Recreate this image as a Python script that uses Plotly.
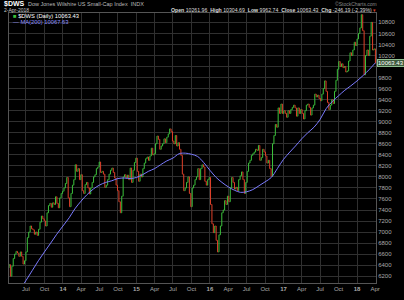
import pandas as pd
import plotly.graph_objects as go

# Weekly closes, week starting dates from 2013-04-08
weekly_close = [
    # 2013 Apr 8 ..
    6410, 6200, 6380, 6520, 6600, 6650, 6620, 6560, 6640, 6560, 6420, 6480,
    6640, 6900, 7000, 7110, 7060, 7040, 6960, 7000, 6940, 7050, 7180, 7290,
    7240, 7200, 7110, 7350, 7480, 7520, 7450, 7530, 7500, 7640, 7520, 7440,
    7620, 7700, 7740,
    # 2014
    7800, 7880, 7990, 7620, 7460, 7700, 7850, 7950, 8220, 8100, 8150, 7950,
    8040, 7750, 7700, 7860, 7900, 7800, 7690, 7800, 7900, 8000, 8040, 8150,
    8180, 8270, 8080, 8100, 8050, 7810, 7850, 7950, 8050, 8120, 8160, 8080,
    7980, 7850, 7750, 7550, 7350, 7650, 8000, 8040, 7980, 8030, 7950, 8160,
    7900, 8120, 8260, 8340,
    # 2015
    8100, 7920, 8050, 8000, 8150, 8250, 8330, 8360, 8300, 8380, 8520, 8400,
    8420, 8600, 8740, 8680, 8500, 8560, 8600, 8690, 8620, 8720, 8780, 8870,
    8820, 8650, 8600, 8750, 8560, 8620, 8500, 8390, 8050, 7750, 7800, 7900,
    8000, 7700, 7460, 7800, 7850, 7950, 8000, 8150, 7950, 8150, 8220, 8180,
    7920, 7850, 7950, 7990,
    # 2016
    7500, 7150, 6990, 7110, 6850, 6640, 6950, 7110, 7350, 7400, 7570, 7500,
    7650, 7550, 7800, 7990, 7900, 7780, 7810, 7750, 7950, 8020, 8090, 7950,
    7700, 7900, 8100, 8250, 8300, 8390, 8420, 8450, 8500, 8480, 8570, 8300,
    8350, 8500, 8450, 8380, 8250, 8300, 8150, 8010, 8600, 8750, 8950, 8900,
    9250, 9150, 9320, 9150,
    # 2017
    9200, 9150, 9080, 9200, 9150, 9220, 9260, 9300, 9250, 9100, 9250, 9150,
    9220, 9150, 9050, 9200, 9300, 9320, 9260, 9120, 9250, 9300, 9500, 9450,
    9480, 9420, 9380, 9500, 9600, 9740, 9550, 9350, 9220, 9300, 9400, 9330,
    9550, 9750, 9950, 10090, 10000, 10050, 9980, 10000, 9900, 9920, 10100, 10250,
    10200, 10300, 10440, 10380,
    # 2018
    10500, 10600, 10700, 10940, 10650, 9850, 10200, 10300, 10200, 10550, 10800, 10300,
    10320, 10063.43,
]
first_open = 6350

# 200-day moving average, hand-read at month starts (last point 2-Apr-2018)
ma_values = [
    5600, 5750, 5950, 6120, 6300, 6480, 6640, 6800, 6960,
    7110, 7260, 7420, 7560, 7680, 7780, 7850, 7900, 7930, 7970, 7980, 7970,
    7990, 8040, 8100, 8150, 8220, 8290, 8340, 8420, 8430, 8410, 8370, 8260,
    8120, 7990, 7900, 7820, 7760, 7720, 7730, 7770, 7840, 7910, 7990, 8150,
    8320, 8450, 8560, 8690, 8800, 8900, 9040, 9240, 9370, 9470, 9570, 9650,
    9740, 9840, 9940, 10067.63,
]

y_ticks = list(range(6200, 10801, 200))
y_tick_text = ["" if v == 10000 else str(v) for v in y_ticks]
x_tick_dates = pd.date_range("2013-07-01", "2018-04-01", freq="QS")
x_tick_text = [("<b>%02d</b>" % (d.year % 100)) if d.month == 1 else d.strftime("%b") for d in x_tick_dates]

dates = pd.date_range("2013-04-08", periods=len(weekly_close), freq="7D")
opens = [first_open] + weekly_close[:-1]
highs = [max(o, c) for o, c in zip(opens, weekly_close)]
lows = [min(o, c) for o, c in zip(opens, weekly_close)]
ma_dates = list(pd.date_range("2013-04-01", "2018-03-01", freq="MS")) + [pd.Timestamp("2018-04-02")]

fig = go.Figure()
fig.add_trace(go.Ohlc(
    x=dates, open=opens, high=highs, low=lows, close=weekly_close,
    increasing=dict(line=dict(color="#3cc23c", width=1)),
    decreasing=dict(line=dict(color="#e0402a", width=1)),
    tickwidth=0.4, showlegend=False, hoverinfo="skip",
))
fig.add_trace(go.Scatter(
    x=ma_dates, y=ma_values, mode="lines",
    line=dict(color="#7b7bff", width=1, shape="spline"),
    showlegend=False, hoverinfo="skip",
))

W, H = 404, 300
L, R, T, B = 8, 380, 13, 292

def px(x):
    return (x - L) / (R - L)

def py(y):
    return (B - y) / (B - T)

font = "Arial, Liberation Sans, sans-serif"
ann = []
def text(x, y, s, size, color, anchor="left"):
    ann.append(dict(x=px(x), y=py(y), xref="paper", yref="paper", text=s, showarrow=False,
                    xanchor=anchor, yanchor="middle", font=dict(family=font, size=size, color=color)))

text(1, 3.5, "<b>$DWS</b>", 7, "#ffffff")
text(25, 3.5, "Dow Jones Wilshire US Small-Cap Index  INDX", 5.5, "#bbbbbb")
text(1, 10, "2-Apr-2018", 5, "#cccccc")
text(382, 10,
     "<b>Open</b> 10261.96  <b>High</b> 10304.69  <b>Low</b> 9962.74  <b>Close</b> 10063.43  "
     "<b>Chg</b> -246.19 (-2.39%) <span style='color:#e0402a'>▾</span>",
     5.2, "#dddddd", anchor="right")
text(383, 3.5, "©StockCharts.com", 5, "#888888", anchor="right")
text(10, 16.5, "<span style='color:#3cc23c'>■</span> $DWS (Daily) 10063.43", 5.8, "#ffffff")
text(10, 22.5, "— MA(200) 10067.63", 5.8, "#8f8fff")
ann.append(dict(x=1.0, y=10063.43, xref="paper", yref="y", text="10063.43", showarrow=False,
                xanchor="left", yanchor="middle", xshift=1,
                font=dict(family=font, size=6, color="#ffffff"),
                bgcolor="#3d5a3d", bordercolor="#8fbf8f", borderwidth=1, borderpad=0))

fig.update_layout(
    width=W, height=H,
    margin=dict(l=L, r=W - R, t=T, b=H - B),
    paper_bgcolor="#000000", plot_bgcolor="#000000",
    annotations=ann,
    xaxis=dict(
        range=["2013-04-08", "2018-04-05"], rangeslider=dict(visible=False),
        tickmode="array", tickvals=x_tick_dates, ticktext=x_tick_text,
        tickfont=dict(family=font, size=6, color="#aaaaaa"),
        showgrid=True, gridcolor="#303030", gridwidth=1,
        showline=True, linecolor="#555555", mirror=True, ticks="", ticklen=0,
        zeroline=False,
    ),
    yaxis=dict(
        range=[6077, 10970], side="right",
        tickmode="array", tickvals=y_ticks, ticktext=y_tick_text,
        tickfont=dict(family=font, size=6, color="#aaaaaa"),
        showgrid=True, gridcolor="#303030", gridwidth=1,
        showline=True, linecolor="#555555", mirror=True, ticks="", zeroline=False,
    ),
)

fig.write_html("out.html")
